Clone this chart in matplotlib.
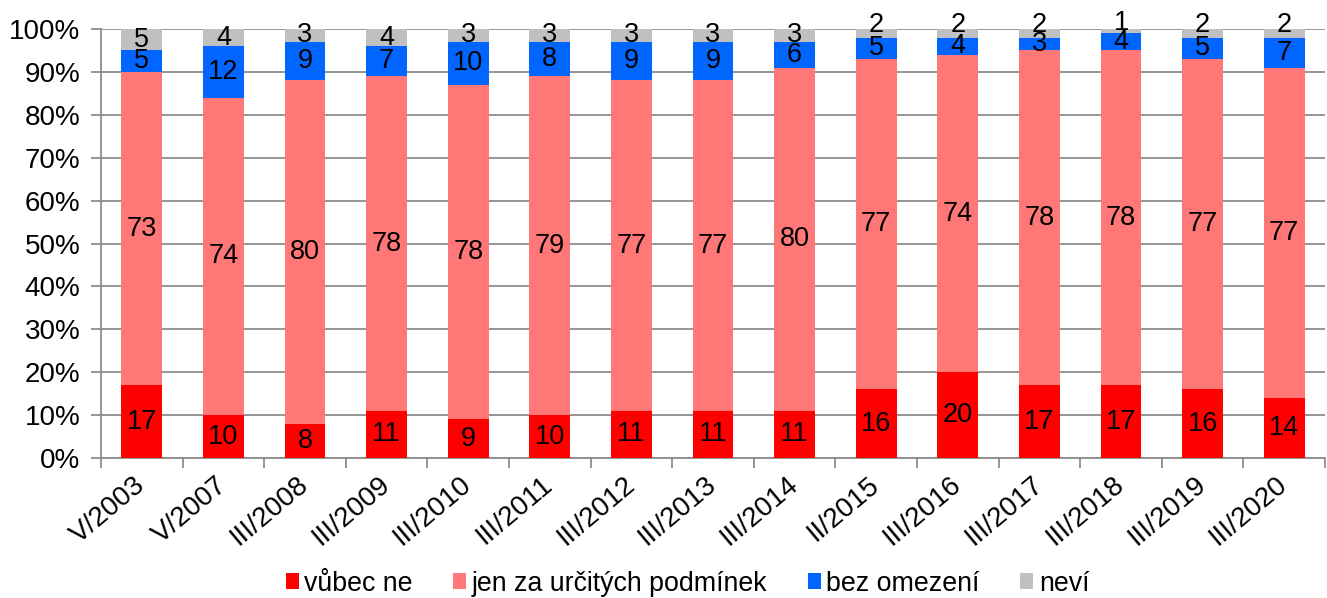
import matplotlib.pyplot as plt
import numpy as np
from matplotlib.ticker import FixedLocator, NullFormatter, PercentFormatter

plt.rcParams['font.family'] = ['Liberation Sans', 'DejaVu Sans']

waves = ['V/2003', 'V/2007', 'III/2008', 'III/2009', 'III/2010', 'III/2011',
         'III/2012', 'III/2013', 'III/2014', 'II/2015', 'III/2016', 'III/2017',
         'III/2018', 'III/2019', 'III/2020']
vubec_ne = [17, 10, 8, 11, 9, 10, 11, 11, 11, 16, 20, 17, 17, 16, 14]
jen_za = [73, 74, 80, 78, 78, 79, 77, 77, 80, 77, 74, 78, 78, 77, 77]
bez_omezeni = [5, 12, 9, 7, 10, 8, 9, 9, 6, 5, 4, 3, 4, 5, 7]
nevi = [5, 4, 3, 4, 3, 3, 3, 3, 3, 2, 2, 2, 1, 2, 2]

series = [
    ('vůbec ne', vubec_ne, '#ff0000'),
    ('jen za určitých podmínek', jen_za, '#ff7777'),
    ('bez omezení', bez_omezeni, '#0066ff'),
    ('neví', nevi, '#c0c0c0'),
]

fig = plt.figure(figsize=(13.27, 5.98), dpi=100)
ax = fig.add_axes([0.0761, 0.234, 0.9224, 0.7175])

x = np.arange(len(waves))
bottom = np.zeros(len(waves))
for i, (name, vals, col) in enumerate(series):
    vals = np.array(vals, dtype=float)
    ax.bar(x, vals, 0.5, bottom=bottom, color=col, label=name, zorder=3)
    for xi, b, v in zip(x, bottom, vals):
        # small top segments: label pushed up a bit like in the original
        dy = 6 if (i == 3 and v <= 2) else 0
        ax.annotate(str(int(v)), (xi, b + v / 2), xytext=(0, dy),
                    textcoords='offset points', ha='center', va='center',
                    fontsize=19.5, color='black', zorder=4)
    bottom += vals

ax.set_xlim(-0.5, len(waves) - 0.5)
ax.set_ylim(0, 100)
ax.yaxis.set_major_locator(FixedLocator(np.arange(0, 101, 10)))
ax.yaxis.set_major_formatter(PercentFormatter(decimals=0))
ax.grid(axis='y', color='#8c8c8c', linewidth=1.3, zorder=0)

# category ticks between bars, labels at bar centers
ax.xaxis.set_major_locator(FixedLocator(np.arange(-0.5, len(waves), 1)))
ax.xaxis.set_major_formatter(NullFormatter())
ax.xaxis.set_minor_locator(FixedLocator(x))
ax.set_xticklabels(waves, minor=True, rotation=40, ha='right', va='center',
                   rotation_mode='anchor', fontsize=20)
ax.tick_params(axis='x', which='minor', length=0, pad=17)
ax.tick_params(axis='x', which='major', length=7, width=1.3, color='#8c8c8c')
ax.tick_params(axis='y', length=7, width=1.3, color='#8c8c8c', labelsize=20, pad=8)

for s in ['top', 'right']:
    ax.spines[s].set_visible(False)
for s in ['left', 'bottom']:
    ax.spines[s].set_color('#8c8c8c')
    ax.spines[s].set_linewidth(1.3)

fig.legend(loc='lower center', bbox_to_anchor=(0.518, -0.038), ncol=4, frameon=False,
           fontsize=19.3, handlelength=0.5, handleheight=0.5, handletextpad=0.2,
           columnspacing=1.5)

fig.savefig('out.png', dpi=100)
